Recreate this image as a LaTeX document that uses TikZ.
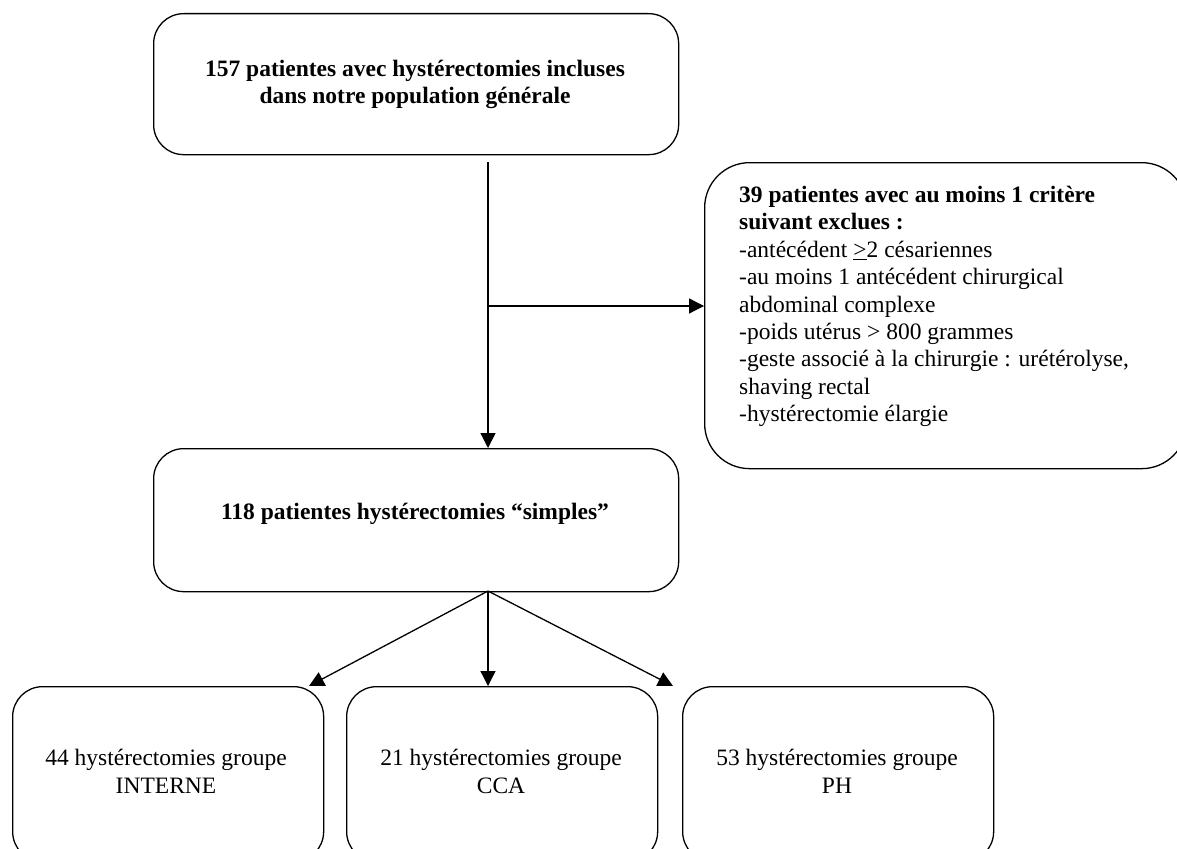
\documentclass[tikz,border=0pt]{standalone}
\usepackage{fontspec}
\setmainfont{Liberation Serif}
\usetikzlibrary{arrows.meta}
\begin{document}
\begin{tikzpicture}[x=1pt,y=-1pt,
  boxa/.style={draw=black,line width=1.3pt,rounded corners=30pt,inner sep=0pt,anchor=north west},
  boxb/.style={draw=black,line width=1.3pt,rounded corners=45pt,inner sep=0pt,anchor=north west},
  conn/.style={draw=black,line width=1.3pt,-{Triangle[length=15pt,width=15pt]}}]
\useasboundingbox (0,0) rectangle (1177,848);
\clip (0,0) rectangle (1177,848);
% boxes
\node[boxa,minimum width=525pt,minimum height=141pt] (top) at (153,13) {};
\node[boxb,minimum width=482pt,minimum height=306pt] (excl) at (704,162) {};
\node[boxa,minimum width=525pt,minimum height=143pt] (mid) at (153,448) {};
\node[boxa,minimum width=311pt,minimum height=175pt] (g1) at (12,686) {};
\node[boxa,minimum width=311pt,minimum height=175pt] (g2) at (346,686) {};
\node[boxa,minimum width=311pt,minimum height=175pt] (g3) at (682,686) {};
% texts
\node[align=center,font=\fontsize{23.5}{27}\selectfont\bfseries,inner sep=0pt] (ttop) at (415,84) {157 patientes avec hystérectomies incluses\\dans notre population générale};
\node[align=left,anchor=north west,font=\fontsize{23.5}{27.4}\selectfont,inner sep=0pt] (texcl) at (739,186) {\textbf{39 patientes avec au moins 1 critère}\\\textbf{suivant exclues :}\\-antécédent \underline{>}2 césariennes\\-au moins 1 antécédent chirurgical\\abdominal complexe\\-poids utérus > 800 grammes\\-geste associé à la chirurgie : urétérolyse,\\shaving rectal\\-hystérectomie élargie};
\node[font=\fontsize{23.5}{27}\selectfont\bfseries,inner sep=0pt] (tmid) at (415,514) {118 patientes hystérectomies “simples”};
\node[align=center,font=\fontsize{23.5}{28}\selectfont,inner sep=0pt] (tg1) at (166,771) {44 hystérectomies groupe\\INTERNE};
\node[align=center,font=\fontsize{23.5}{28}\selectfont,inner sep=0pt] (tg2) at (501,771) {21 hystérectomies groupe\\CCA};
\node[align=center,font=\fontsize{23.5}{28}\selectfont,inner sep=0pt] (tg3) at (837,771) {53 hystérectomies groupe\\PH};
% connectors
\coordinate (s1) at (488,162);
\coordinate (j1) at (488,306);
\coordinate (e1) at (488,448);
\coordinate (s2) at (488,591);
\coordinate (a1) at (309,686);
\coordinate (a2) at (488,686);
\coordinate (a3) at (673,686);
\coordinate (ex) at (704,306);
\draw[conn] (s1) -- (e1);
\draw[conn] (j1) -- (ex);
\draw[conn] (s2) -- (a1);
\draw[conn] (s2) -- (a2);
\draw[conn] (s2) -- (a3);
\end{tikzpicture}
\end{document}
